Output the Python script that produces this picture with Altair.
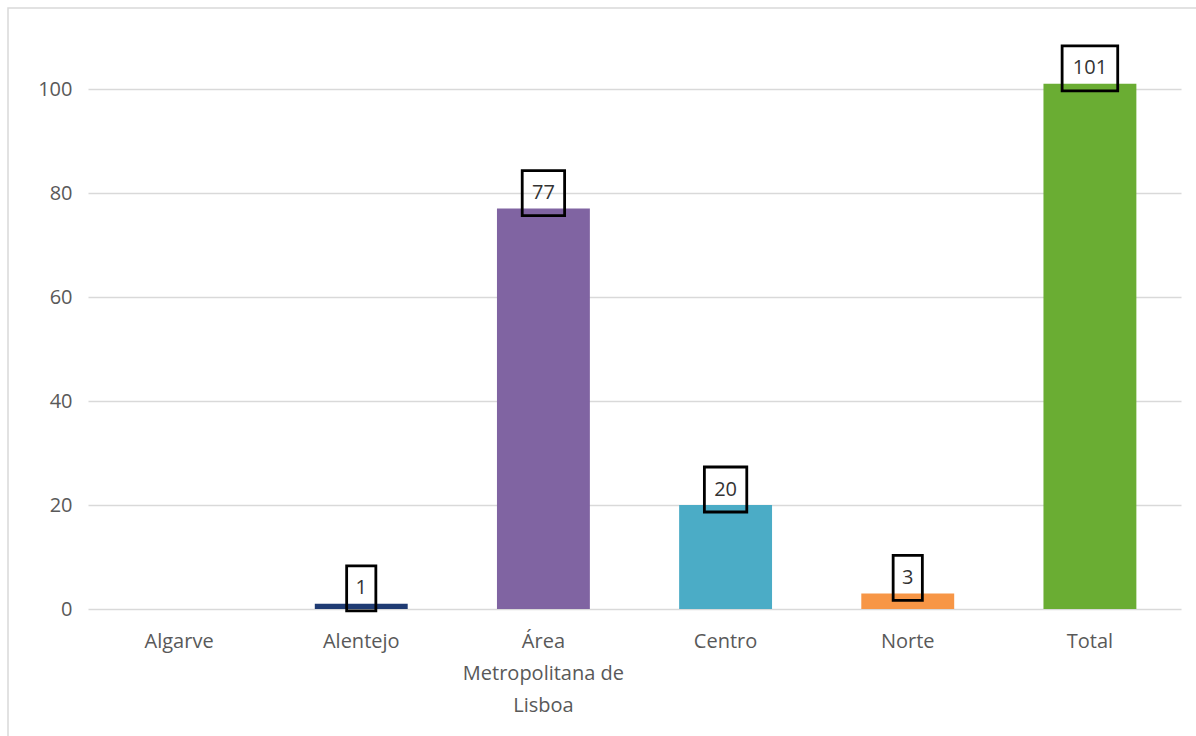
import altair as alt
import pandas as pd

categories = ["Algarve", "Alentejo", "Área Metropolitana de Lisboa", "Centro", "Norte", "Total"]
values = [0, 1, 77, 20, 3, 101]
labels = ["", "1", "77", "20", "3", "101"]
colors = ["#FFFFFF", "#1F3B73", "#8064A2", "#4BACC6", "#F79646", "#6AAD33"]

df = pd.DataFrame({"cat": categories, "value": values, "label": labels, "color": colors})

FONT = "Open Sans"
W, H = 1093, 572

x = alt.X("cat:N", sort=categories, title=None,
          scale=alt.Scale(paddingInner=0.49, paddingOuter=0.245),
          axis=alt.Axis(labelAngle=0, ticks=False, domain=False, grid=False,
                        labelFont=FONT, labelFontSize=20, labelColor="#595959",
                        labelPadding=22, labelLineHeight=32, labelBaseline="top",
                        labelExpr="datum.value == 'Área Metropolitana de Lisboa' ? ['Área', 'Metropolitana de', 'Lisboa'] : datum.label"))
y = alt.Y("value:Q", title=None,
          scale=alt.Scale(domain=[0, 110], nice=False),
          axis=alt.Axis(values=[0, 20, 40, 60, 80, 100], ticks=False, domain=False,
                        gridColor="#d9d9d9", gridWidth=1.5,
                        labelFont=FONT, labelFontSize=20, labelColor="#595959",
                        labelPadding=16))

frame = alt.Chart(df).mark_rect(fillOpacity=0, stroke="#d9d9d9", strokeWidth=1.5, clip=False).encode(
    x=alt.value(-80), x2=alt.value(1112), y=alt.value(-29), y2=alt.value(704)
).transform_filter("datum.cat == 'Total'")

bars = alt.Chart(df).mark_bar().encode(
    x=x, y=y, color=alt.Color("color:N", scale=None)
)

lab = alt.Chart(df).transform_filter("datum.label != ''").transform_calculate(
    hw="(8 + 6.6*length(datum.label))/22.5",
    shape="'M' + (-datum.hw) + ',-1H' + datum.hw + 'V1H' + (-datum.hw) + 'Z'"
)

boxes = lab.mark_point(filled=False, stroke="black", strokeWidth=2.8, size=2025,
                       opacity=1, yOffset=-15.5).encode(
    x=alt.X("cat:N", sort=categories),
    y="value:Q",
    shape=alt.Shape("shape:N", scale=None)
)

texts = lab.mark_text(font=FONT, fontSize=20, color="#333333", yOffset=-15.5,
                      baseline="middle", align="center").encode(
    x=alt.X("cat:N", sort=categories),
    y="value:Q",
    text="label:N"
)

chart = alt.layer(bars, boxes, texts, frame).properties(
    width=W, height=H,
    autosize=alt.AutoSizeParams(type="none"),
    padding={"left": 88, "top": 37, "right": 15, "bottom": 127},
    background="white"
).configure_view(stroke=None)

chart.save("out.html", embed_options={"renderer": "svg", "actions": False})
